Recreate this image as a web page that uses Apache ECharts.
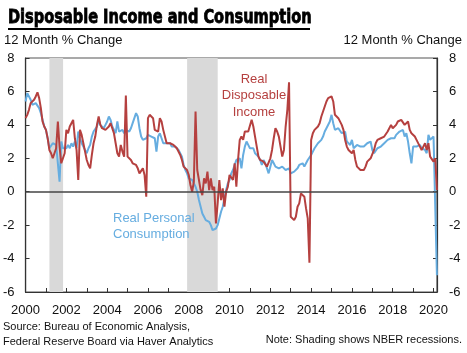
<!DOCTYPE html>
<html><head><meta charset="utf-8">
<script src="https://cdn.jsdelivr.net/npm/echarts@6/dist/echarts.min.js"></script>
<style>html,body{margin:0;padding:0;background:#fff}#c{width:467px;height:353px}</style>
</head><body><div id="c"></div>
<script>
// Monthly series, starting January 2000 (12-month % change)
const startYear = 2000;
const realDisposableIncome = [
  4.4, 4.6, 4.9, 5.3, 5.4, 5.5, 5.7, 5.95, 5.6, 5.0, 4.2, 3.9,   // 2000
  3.7, 3.2, 2.5, 2.3, 2.0, 1.9, 2.6, 4.2, 2.7, 1.7, 2.0, 2.3,    // 2001
  3.7, 3.5, 3.9, 4.1, 4.3, 3.2, 2.5, 0.7, 3.7, 3.4, 2.9, 2.4,    // 2002
  1.9, 1.6, 1.4, 2.2, 2.9, 3.3, 4.0, 4.5, 4.0, 3.8, 3.7, 3.7,    // 2003
  3.7, 3.9, 4.1, 3.8, 3.5, 2.9, 2.3, 2.1, 2.8, 2.4, 2.1, 5.75,   // 2004
  2.1, 2.0, 1.9, 1.7, 1.6, 1.6, 1.4, 1.1, 1.0, 1.4, 1.0, -0.3,   // 2005
  4.4, 4.6, 4.7, 4.4, 3.7, 3.8, 3.6, 4.4, 4.2, 3.7, 3.8, 2.9,    // 2006
  2.9, 2.9, 2.9, 2.8, 2.7, 2.6, 2.6, 2.2, 1.9, 1.5, 1.4, 1.3,    // 2007
  1.0, 0.4, 0.0, 0.6, 4.8, 1.3, 0.7, 0.1, -0.2, 0.8, 0.5, 1.2,   // 2008
  0.1, 0.8, 0.1, 0.3, -1.9, -0.7, 0.7, -0.5, 0.2, -0.9, 0.0, 0.3, // 2009
  1.0, 1.1, 0.7, 1.7, 0.3, 1.9, 3.1, 3.3, 3.1, 3.6, 3.5, 3.6,    // 2010
  3.7, 4.3, 3.9, 3.3, 2.7, 2.1, 1.9, 2.0, 1.8, 1.7, 1.5, 1.6,    // 2011
  2.0, 2.5, 3.2, 3.8, 3.6, 3.3, 2.7, 2.1, 2.5, 3.9, 4.9, 6.55,   // 2012
  -1.5, -1.6, -1.7, -1.5, -0.9, -0.7, -0.1, 0.0, -0.3, -1.0, -1.6, -4.25, // 2013
  3.1, 3.5, 3.7, 3.8, 3.9, 4.1, 4.5, 4.8, 5.1, 5.4, 5.6, 5.7,    // 2014
  5.7, 5.4, 4.6, 4.5, 4.4, 4.3, 4.0, 3.7, 3.1, 2.7, 2.5, 2.4,    // 2015
  2.3, 2.5, 1.9, 1.5, 1.4, 1.3, 1.3, 1.3, 1.5, 1.8, 1.7, 2.0,    // 2016
  2.1, 2.5, 2.9, 3.1, 3.2, 3.2, 3.2, 3.3, 3.3, 3.6, 3.6, 4.0,    // 2017
  3.8, 3.9, 4.0, 4.2, 4.2, 4.3, 4.4, 4.0, 4.0, 4.2, 3.7, 3.5,    // 2018
  3.4, 3.3, 3.1, 3.0, 2.7, 2.5, 2.7, 2.9, 2.5, 2.9, 2.1, 2.0,    // 2019
  1.8, 2.0, 0.1                                                  // 2020
];
const realPersonalConsumption = [
  5.4, 5.9, 6.0, 5.5, 5.2, 5.1, 5.3, 5.4, 5.0, 4.7, 4.3, 3.9,    // 2000
  3.7, 3.2, 2.6, 2.5, 2.9, 3.0, 2.8, 2.7, 0.6, 3.0, 2.6, 2.5,    // 2001
  2.6, 2.8, 2.6, 2.9, 2.7, 3.0, 2.6, 3.6, 3.2, 2.9, 2.7, 2.6,    // 2002
  2.3, 2.6, 2.8, 3.3, 3.6, 3.7, 3.9, 4.3, 4.0, 3.9, 3.8, 4.0,    // 2003
  4.2, 4.5, 4.3, 3.9, 4.0, 3.5, 4.2, 3.6, 3.6, 3.7, 3.5, 3.7,    // 2004
  3.6, 3.6, 3.8, 4.1, 4.4, 4.7, 4.5, 3.8, 3.3, 3.1, 3.2, 3.2,    // 2005
  3.4, 3.3, 3.3, 3.4, 3.2, 2.4, 3.3, 3.5, 3.2, 2.9, 2.9, 2.9,    // 2006
  2.8, 2.9, 2.7, 2.7, 2.7, 2.6, 2.5, 2.4, 2.1, 1.6, 1.3, 1.1,    // 2007
  0.8, 0.7, 0.7, 0.6, 0.3, 0.0, -0.5, -0.9, -1.3, -1.5, -1.7, -1.6, // 2008
  -1.8, -2.0, -2.3, -2.3, -2.2, -2.0, -1.6, -1.2, -0.9, -0.4, 0.1, 0.5, // 2009
  0.7, 1.1, 1.3, 1.6, 1.9, 1.9, 2.0, 1.4, 2.2, 2.7, 3.0, 2.8,    // 2010
  2.6, 2.7, 2.6, 2.3, 2.2, 2.1, 1.9, 1.6, 1.9, 1.7, 1.7, 1.1,    // 2011
  1.5, 1.9, 1.7, 1.5, 1.5, 1.4, 1.3, 1.5, 1.4, 1.3, 1.4, 1.4,    // 2012
  1.1, 1.2, 1.2, 1.3, 1.4, 1.6, 1.6, 1.7, 1.5, 1.7, 1.9, 1.9,    // 2013
  2.2, 2.4, 2.6, 2.7, 2.9, 3.0, 3.1, 3.3, 3.6, 3.8, 3.8, 4.2,    // 2014
  4.6, 4.1, 3.7, 3.8, 3.8, 3.7, 3.5, 3.6, 3.6, 3.0, 2.9, 2.8,    // 2015
  3.1, 2.6, 2.7, 2.8, 2.7, 2.7, 2.6, 2.7, 2.8, 2.9, 2.9, 3.0,    // 2016
  2.5, 2.3, 2.4, 2.6, 2.7, 2.7, 2.8, 2.9, 2.9, 3.1, 3.2, 3.2,    // 2017
  3.1, 3.2, 3.4, 3.5, 3.6, 3.7, 3.7, 3.3, 3.5, 3.0, 2.3, 1.7,    // 2018
  2.7, 2.7, 2.7, 2.8, 2.8, 2.6, 2.6, 2.5, 2.3, 3.4, 3.1, 3.2,    // 2019
  3.3, 3.2, -5.0                                                 // 2020
];
// NBER recessions (decimal years)
const recessions = [[2001.17, 2001.84], [2007.92, 2009.42]];
const yTicks = { min: -6, max: 8, interval: 2 };
const xRange = { min: 2000, max: 2020.17 };

const toPairs = arr => arr.map((v, i) => [startYear + i / 12, v]);
const RED = '#b5403f', BLUE = '#66ade0';
const FONT = '"Liberation Sans", Arial, Helvetica, sans-serif';

const chart = echarts.init(document.getElementById('c'), null, { renderer: 'canvas' });
const yAxisBase = pos => ({
  type: 'value', position: pos, min: yTicks.min, max: yTicks.max, interval: yTicks.interval,
  axisLine: { show: true, lineStyle: { color: '#333', width: 1.2 } },
  axisTick: { show: true, inside: true, length: 4, lineStyle: { color: '#333' } },
  axisLabel: { color: '#111', fontSize: 13, fontFamily: FONT, margin: pos === 'left' ? 11 : 12 },
  splitLine: { show: false }
});
chart.setOption({
  animation: false,
  grid: { left: 24, right: 30, top: 58, bottom: 61, show: true, borderColor: '#555', borderWidth: 1.2, backgroundColor: 'transparent' },
  xAxis: {
    type: 'value', min: xRange.min, max: xRange.max, interval: 1,
    axisLine: { show: true, onZero: false, lineStyle: { color: '#333', width: 1.2 } },
    axisTick: { show: true, inside: true, length: 4, lineStyle: { color: '#333' } },
    axisLabel: {
      color: '#111', fontSize: 13, fontFamily: FONT, margin: 12, showMaxLabel: false,
      formatter: v => (Math.abs(v - Math.round(v)) < 1e-6 && Math.round(v) % 2 === 0) ? String(Math.round(v)) : ''
    },
    splitLine: { show: false }
  },
  yAxis: [yAxisBase('left'), yAxisBase('right')],
  series: [
    {
      type: 'line', name: 'Real Personal Consumption', data: toPairs(realPersonalConsumption),
      showSymbol: false, symbol: 'none', lineStyle: { color: BLUE, width: 2 }, z: 3,
      markArea: { silent: true, itemStyle: { color: '#d9d9d9' },
        data: recessions.map(r => [{ xAxis: r[0] }, { xAxis: r[1] }]) },
      markLine: { silent: true, symbol: 'none', label: { show: false },
        lineStyle: { color: '#444', width: 1.5, type: 'solid' }, data: [{ yAxis: 0 }] }
    },
    {
      type: 'line', name: 'Real Disposable Income', data: toPairs(realDisposableIncome),
      showSymbol: false, symbol: 'none', lineStyle: { color: RED, width: 2 }, z: 4
    }
  ],
  graphic: [
    { type: 'text', x: 8, y: 8, scaleX: 0.81, z: 100, style: { text: 'Disposable Income and Consumption', fill: '#000',
        stroke: '#000', lineWidth: 0.8,
        font: 'bold 20px "DejaVu Sans Condensed", "Liberation Sans", sans-serif' } },
    { type: 'rect', z: 100, shape: { x: 8, y: 28, width: 302, height: 2 }, style: { fill: '#000' } },
    { type: 'text', left: 4, top: 34, z: 100, style: { text: '12 Month % Change', fill: '#111', font: '13px ' + FONT } },
    { type: 'text', right: 5, top: 34, z: 100, style: { text: '12 Month % Change', fill: '#111', font: '13px ' + FONT } },
    { type: 'text', x: 254, y: 71, z: 100, style: { text: 'Real\nDisposable\nIncome', fill: RED, align: 'center', lineHeight: 16.5, font: '13px ' + FONT } },
    { type: 'text', x: 113, y: 210, z: 100, style: { text: 'Real Personal\nConsumption', fill: BLUE, align: 'left', lineHeight: 16.5, font: '13px ' + FONT } },
    { type: 'text', left: 3, top: 319, z: 100, style: { text: 'Source: Bureau of Economic Analysis,\nFederal Reserve Board via Haver Analytics', fill: '#111', lineHeight: 15.5, font: '11px ' + FONT } },
    { type: 'text', right: 5, top: 334.5, z: 100, style: { text: 'Note: Shading shows NBER recessions.', fill: '#111', font: '11px ' + FONT } }
  ]
});
</script></body></html>
